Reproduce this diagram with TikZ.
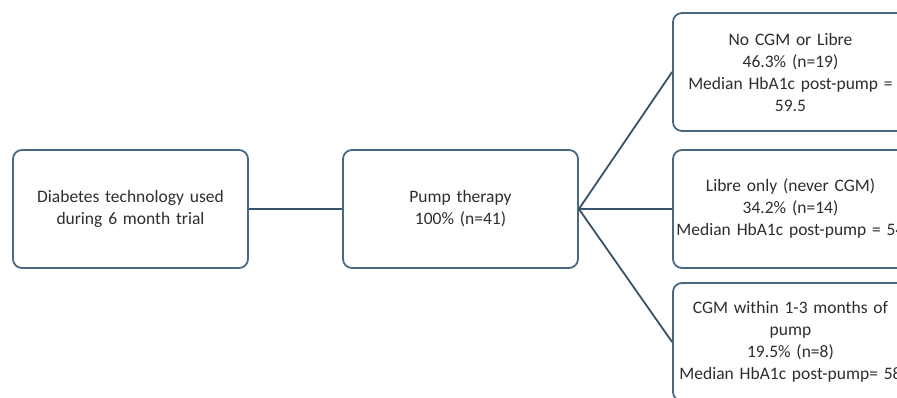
\documentclass[tikz,border=0pt]{standalone}
\usepackage{fontspec}
\setmainfont{Carlito}
\usepackage{xcolor}
\usepackage{tikz}
\usetikzlibrary{calc,positioning}
\definecolor{boxline}{HTML}{4A6882}
\definecolor{linkline}{HTML}{35536C}
\definecolor{boxtext}{HTML}{2E2E2E}

\begin{document}
\begin{tikzpicture}[x=1pt,y=-1pt,
  techbox/.style={draw=boxline,line width=1.8pt,rounded corners=9pt,fill=white,
    text width=215pt,align=center,inner sep=10pt,minimum height=118pt,
    text=boxtext,font=\fontsize{17.5}{22}\selectfont},
  link/.style={draw=linkline,line width=1.8pt}]
  \useasboundingbox (0,0) rectangle (897,398);
  \clip (0,0) rectangle (897,398);
  \fill[white] (0,0) rectangle (897,398);
  \node[techbox] (tech) at (130.5,209) {Diabetes technology used\\during 6 month trial};
  \node[techbox] (pump) at (460.5,209) {Pump therapy\\100\% (n=41)};
  \node[techbox] (nocgm) at (790.5,72) {No CGM or Libre\\46.3\% (n=19)\\Median HbA1c post-pump =\\59.5};
  \node[techbox] (libre) at (790.5,209) {Libre only (never CGM)\\34.2\% (n=14)\\\makebox[\linewidth]{Median HbA1c post-pump = 54}};
  \node[techbox] (cgm) at (790.5,342) {CGM within 1-3 months of\\pump\\19.5\% (n=8)\\\makebox[\linewidth]{Median HbA1c post-pump= 58}};
  \draw[link] (tech.east) -- (pump.west);
  \foreach \b in {nocgm,libre,cgm}
  \draw[link] (pump.east) -- (\b.west);
\end{tikzpicture}
\end{document}
